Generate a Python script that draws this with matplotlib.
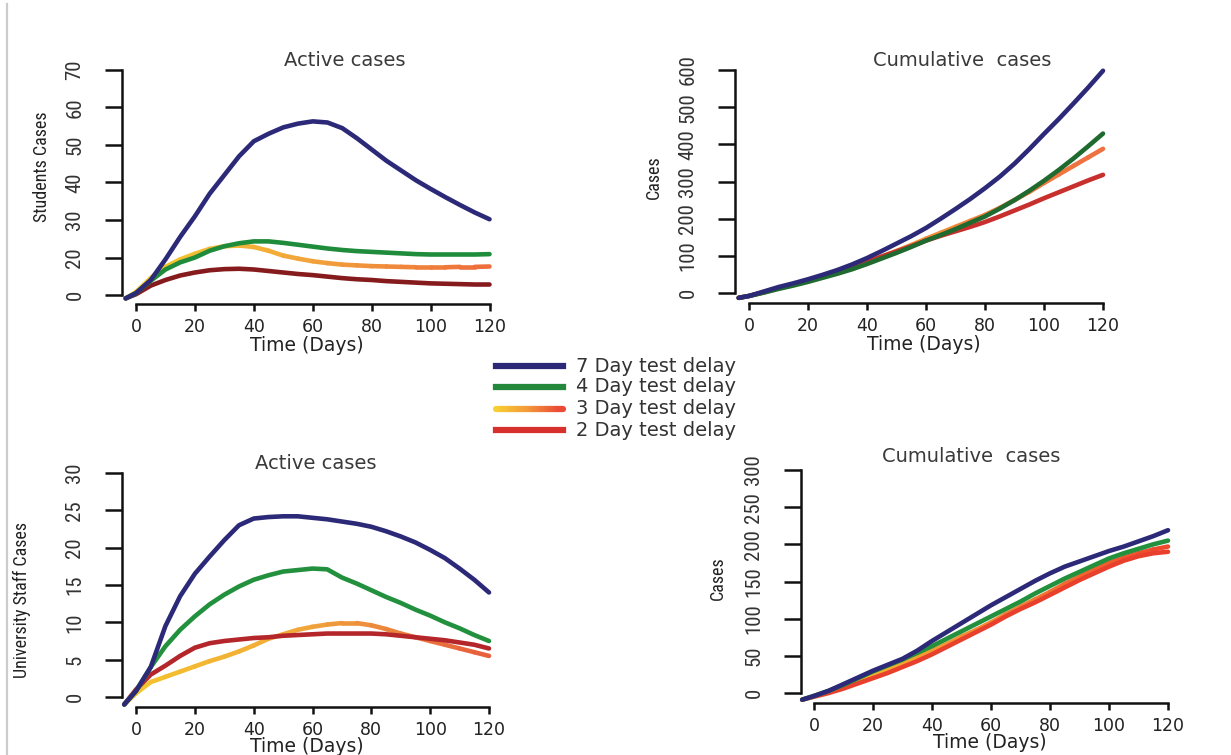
import numpy as np
import matplotlib
matplotlib.use("Agg")
import matplotlib.pyplot as plt
from matplotlib import font_manager as fm
from matplotlib.collections import LineCollection
from matplotlib.colors import LinearSegmentedColormap
from matplotlib.lines import Line2D

W, H = 1231, 755
WIDE = ["DejaVu Sans"]

series_names = ["7 Day test delay", "4 Day test delay", "3 Day test delay", "2 Day test delay"]

# students, active cases (bottom tick is drawn at 10 and labelled "0" as in the source)
days_sa = [-3.5, 0, 5, 10, 15, 20, 25, 30, 35, 40, 45, 50, 55, 60, 65, 70, 75, 80, 85, 90, 95, 100, 105, 110, 115, 120]
sa_7 = [9.1, 10.5, 14, 19.5, 25.5, 31, 37, 42, 47, 51, 53, 54.7, 55.7, 56.3, 56, 54.5, 51.8, 48.8, 45.8, 43.2, 40.6, 38.3, 36.1, 34, 32, 30.2]
sa_4 = [9.1, 10.5, 13.8, 16.8, 18.7, 20, 21.8, 23, 23.8, 24.3, 24.3, 23.9, 23.4, 22.9, 22.4, 22, 21.7, 21.5, 21.3, 21.1, 20.9, 20.8, 20.8, 20.8, 20.8, 20.9]
sa_3 = [9.1, 10.8, 14.5, 17.5, 19.5, 21, 22.3, 23, 23.2, 22.8, 21.8, 20.5, 19.7, 19, 18.5, 18.1, 17.9, 17.7, 17.6, 17.5, 17.4, 17.4, 17.4, 17.5, 17.5, 17.6]
sa_2 = [9.1, 10.2, 12.5, 14, 15.2, 16, 16.6, 16.9, 17, 16.8, 16.4, 16, 15.6, 15.3, 14.9, 14.5, 14.2, 14, 13.7, 13.5, 13.3, 13.1, 13, 12.9, 12.8, 12.8]
sa_ticks = [10, 20, 30, 40, 50, 60, 70]
sa_ticklabels = ["0", "20", "30", "40", "50", "60", "70"]

# students, cumulative cases
days_sc = [-3.5, 0, 5, 10, 15, 20, 25, 30, 35, 40, 45, 50, 55, 60, 65, 70, 75, 80, 85, 90, 95, 100, 105, 110, 115, 120]
sc_7 = [-13, -8, 4, 16, 26, 37, 49, 62, 77, 94, 113, 133, 153, 175, 200, 226, 253, 282, 313, 348, 387, 428, 468, 510, 553, 598]
sc_4 = [-13, -8, 1, 11, 20, 30, 41, 52, 64, 78, 93, 108, 124, 141, 156, 172, 189, 206, 227, 250, 275, 302, 331, 362, 395, 429]
sc_3 = [-13, -8, 2, 13, 23, 34, 45, 57, 70, 84, 98, 113, 129, 146, 162, 178, 194, 210, 229, 250, 272, 296, 319, 342, 365, 388]
sc_2 = [-13, -8, 2, 13, 23, 34, 45, 57, 70, 84, 98, 112, 126, 141, 154, 166, 178, 191, 206, 222, 238, 255, 271, 287, 303, 318]
sc_ticks = [0, 100, 200, 300, 400, 500, 600]

# university staff, active cases
days_ua = [-4, 0, 5, 10, 15, 20, 25, 30, 35, 40, 45, 50, 55, 60, 65, 70, 75, 80, 85, 90, 95, 100, 105, 110, 115, 120]
ua_7 = [-1, 0.8, 4, 9.5, 13.5, 16.5, 18.8, 21, 23, 23.9, 24.1, 24.2, 24.2, 24.0, 23.8, 23.5, 23.2, 22.8, 22.2, 21.5, 20.7, 19.7, 18.6, 17.2, 15.7, 14]
ua_4 = [-1, 0.8, 4, 6.8, 9, 10.8, 12.4, 13.7, 14.8, 15.7, 16.3, 16.8, 17, 17.2, 17.1, 16, 15.2, 14.3, 13.4, 12.6, 11.7, 10.9, 10.0, 9.2, 8.3, 7.5]
ua_3 = [-1, 0.5, 2, 2.7, 3.4, 4.1, 4.8, 5.4, 6.1, 6.9, 7.8, 8.4, 9, 9.4, 9.7, 9.9, 9.9, 9.6, 9.1, 8.5, 8.0, 7.5, 7.0, 6.5, 6.0, 5.5]
ua_2 = [-1, 1, 3, 4.2, 5.5, 6.6, 7.2, 7.5, 7.7, 7.9, 8.0, 8.2, 8.3, 8.4, 8.5, 8.5, 8.5, 8.5, 8.4, 8.2, 8.0, 7.8, 7.6, 7.3, 7.0, 6.5]
ua_ticks = [0, 5, 10, 15, 20, 25, 30]

# university staff, cumulative cases
days_uc = [-4, 0, 5, 10, 15, 20, 25, 30, 35, 40, 45, 50, 55, 60, 65, 70, 75, 80, 85, 90, 95, 100, 105, 110, 115, 120]
uc_7 = [-9, -4, 3, 12, 21, 30, 38, 46, 57, 70, 82, 94, 106, 118, 129, 140, 151, 161, 170, 177, 184, 191, 197, 204, 211, 219]
uc_4 = [-9, -4, 3, 11, 20, 29, 37, 45, 54, 63, 73, 83, 93, 103, 113, 123, 134, 144, 154, 163, 172, 181, 188, 194, 200, 205]
uc_3 = [-9, -4, 2, 10, 18, 26, 33, 41, 49, 57, 66, 76, 85, 95, 106, 116, 126, 136, 147, 157, 166, 175, 182, 188, 193, 197]
uc_2 = [-9, -5, 0, 6, 13, 20, 27, 35, 43, 52, 62, 72, 82, 92, 103, 113, 122, 132, 142, 152, 161, 170, 178, 184, 188, 190]
uc_ticks = [0, 50, 100, 150, 200, 250, 300]

day_ticks = [0, 20, 40, 60, 80, 100, 120]


def narrow_family():
    # the source uses a condensed face for the rotated texts; take one if installed
    for fam in ["Roboto Condensed", "Liberation Sans Narrow", "DejaVu Sans", "Open Sans", "Noto Sans", "Roboto"]:
        try:
            path = fm.findfont(fm.FontProperties(family=fam, stretch="condensed"), fallback_to_default=False)
        except ValueError:
            continue
        low = path.lower()
        if "condensed" in low or "narrow" in low or "cond" in low:
            return [fam, "DejaVu Sans"], 1.0
    return ["Liberation Sans", "DejaVu Sans"], 0.85


NARROW, NSCALE = narrow_family()

fig = plt.figure(figsize=(W / 100, H / 100), dpi=100)


def fx(px):
    return px / W


def fy(py):
    return 1 - py / H


def make_axes(yaxis_px, xaxis_py, x0, x120, yb_py, yb_val, yt_py, yt_val):
    sx = (x120 - x0) / 120
    sy = (yb_py - yt_py) / (yt_val - yb_val)
    xlo = (yaxis_px - x0) / sx
    xhi = 124
    ylo = yb_val - (xaxis_py - yb_py) / sy
    yhi = yt_val + 4 / sy
    right_px = x0 + xhi * sx
    top_py = yb_py - (yhi - yb_val) * sy
    ax = fig.add_axes([fx(yaxis_px), fy(xaxis_py), (right_px - yaxis_px) / W, (xaxis_py - top_py) / H])
    ax.set_xlim(xlo, xhi)
    ax.set_ylim(ylo, yhi)
    ax.patch.set_visible(False)
    for s in ["top", "right"]:
        ax.spines[s].set_visible(False)
    ax.spines["left"].set_bounds(yb_val, yt_val)
    ax.spines["bottom"].set_bounds(0, 120)
    for s in ["left", "bottom"]:
        ax.spines[s].set_linewidth(1.8)
        ax.spines[s].set_color("#111111")
    ax.tick_params(axis="x", length=5, width=1.8, pad=5, colors="#111111", labelcolor="#222222")
    ax.tick_params(axis="y", length=12, width=1.8, pad=15, colors="#111111", labelcolor="#333333")
    ax.set_xticks(day_ticks)
    ax.set_xticklabels([str(t) for t in day_ticks], family=WIDE, fontsize=12.5)
    return ax


def set_yt(ax, ticks, labels=None):
    if labels is None:
        labels = [str(t) for t in ticks]
    ax.set_yticks(ticks)
    ax.set_yticklabels(labels, rotation=90, family=NARROW, stretch="condensed",
                       fontsize=15 * NSCALE, va="center")


def gradient_line(ax, x, y, c0, c1, c2, lw=3.3):
    x = np.asarray(x, float)
    y = np.asarray(y, float)
    pts = np.column_stack([x, y]).reshape(-1, 1, 2)
    segs = np.concatenate([pts[:-1], pts[1:]], axis=1)
    cmap = LinearSegmentedColormap.from_list("g", [c0, c1, c2])
    t = np.linspace(0, 1, len(segs))
    lc = LineCollection(segs, colors=cmap(t), linewidths=lw, capstyle="round",
                        joinstyle="round", clip_on=False, zorder=3)
    ax.add_collection(lc)


def curves(ax, x, s7, s4, s3, s2, c7, c4, c3, c2):
    gradient_line(ax, x, s3, *c3)
    kw = dict(lw=3.3, solid_capstyle="round", solid_joinstyle="round", clip_on=False)
    ax.plot(x, s2, color=c2, zorder=4, **kw)
    ax.plot(x, s4, color=c4, zorder=5, **kw)
    ax.plot(x, s7, color=c7, zorder=6, **kw)


def ptext(px, py, s, **kw):
    fig.text(fx(px), fy(py), s, **kw)


BLUE = "#2c2a78"

# top left
ax1 = make_axes(122, 304, 136, 489.5, 295, 10, 70, 70)
set_yt(ax1, sa_ticks, sa_ticklabels)
curves(ax1, days_sa, sa_7, sa_4, sa_3, sa_2, BLUE, "#1f8c3b",
       ("#f6cc2a", "#f2a53a", "#ee6e3c"), "#861b1e")

# top right
ax2 = make_axes(735, 303, 749, 1103, 293, 0, 70, 600)
set_yt(ax2, sc_ticks)
curves(ax2, days_sc, sc_7, sc_4, sc_3, sc_2, BLUE, "#1f6a2e",
       ("#f29a3c", "#f3903a", "#ef7040"), "#c8302e")

# bottom left
ax3 = make_axes(122, 707, 136, 489, 697, 0, 473, 30)
set_yt(ax3, ua_ticks)
curves(ax3, days_ua, ua_7, ua_4, ua_3, ua_2, BLUE, "#22903d",
       ("#f4c52c", "#f1a63a", "#e8603c"), "#b4262a")

# bottom right
ax4 = make_axes(801, 703, 814, 1168, 693, 0, 470, 300)
set_yt(ax4, uc_ticks)
curves(ax4, days_uc, uc_7, uc_4, uc_3, uc_2, BLUE, "#22903d",
       ("#f5cc2a", "#f38a34", "#ee4a2e"), "#e8402c")

# titles and axis labels
tkw = dict(family=WIDE, fontsize=14, color="#3a3a3a", ha="center", va="center")
ptext(345, 60, "Active cases", **tkw)
ptext(962, 60, "Cumulative  cases", **tkw)
ptext(316, 463, "Active cases", **tkw)
ptext(971, 456, "Cumulative  cases", **tkw)

xkw = dict(family=WIDE, fontsize=13.5, color="#222222", ha="center", va="center")
ptext(307, 346, "Time (Days)", **xkw)
ptext(924, 345, "Time (Days)", **xkw)
ptext(307, 746, "Time (Days)", **xkw)
ptext(990, 743, "Time (Days)", **xkw)

ykw = dict(family=NARROW, stretch="condensed", fontsize=13 * NSCALE, color="#222222",
           ha="center", va="center", rotation=90)
ptext(42, 167, "Students Cases", **ykw)
ptext(654, 177, "Cases", **ykw)
ptext(22, 600, "University Staff Cases", **ykw)
ptext(718, 578, "Cases", **ykw)

# legend drawn in the middle of the figure
lax = fig.add_axes([0, 0, 1, 1])
lax.set_xlim(0, W)
lax.set_ylim(H, 0)
lax.axis("off")
legend_rows = [366, 387, 409, 430]
legend_colors = [BLUE, "#23873c", None, "#d8302c"]
for name, row, col in zip(series_names, legend_rows, legend_colors):
    if col is None:
        xs = np.linspace(496, 563, 30)
        gradient_line(lax, xs, np.full_like(xs, row), "#f8d232", "#f39a3a", "#ea4a36", lw=4.5)
    else:
        lax.add_line(Line2D([496, 563], [row, row], color=col, lw=4.5))
    lax.text(576, row, name, family=WIDE, fontsize=14, color="#333333", va="center", ha="left")

# thin grey border on the left
lax.add_line(Line2D([7, 7], [4, H], color="#cccccc", lw=1.6))

fig.savefig("out.png", dpi=100)
